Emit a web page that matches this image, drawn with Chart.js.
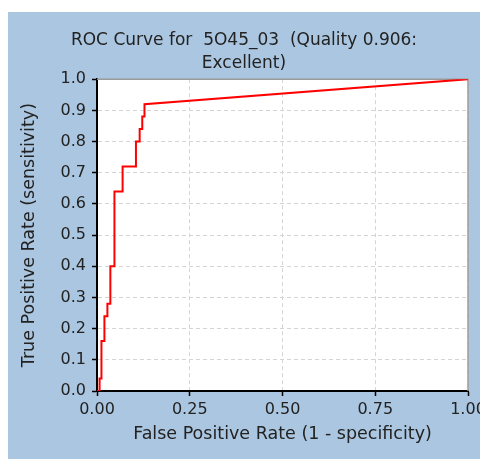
<!DOCTYPE html>
<html>
<head>
<meta charset="utf-8">
<script src="https://cdn.jsdelivr.net/npm/chart.js@4/dist/chart.umd.min.js"></script>
<style>
    body { margin: 0; background: #ffffff; }
    #roc { position: absolute; left: 8px; top: 12px; background: #abc6e0; }
</style>
</head>
<body>
<canvas id="roc" width="472" height="447"></canvas>
<script>
// ROC curve corner points
const fpr = [0, 0.007, 0.007, 0.012, 0.012, 0.020, 0.020, 0.028, 0.028, 0.036, 0.036,
             0.047, 0.047, 0.069, 0.069, 0.105, 0.105, 0.115, 0.115, 0.122, 0.122,
             0.128, 0.128, 1.0];
const tpr = [0, 0, 0.04, 0.04, 0.16, 0.16, 0.24, 0.24, 0.28, 0.28, 0.40,
             0.40, 0.64, 0.64, 0.72, 0.72, 0.80, 0.80, 0.84, 0.84, 0.88,
             0.88, 0.92, 1.0];
const titleLines = ['ROC Curve for  5O45_03  (Quality 0.906:', 'Excellent)'];
const xTitle = 'False Positive Rate (1 - specificity)';
const yTitle = 'True Positive Rate (sensitivity)';

Chart.defaults.font.family = '"DejaVu Sans", sans-serif';
Chart.defaults.font.size = 16;
Chart.defaults.color = '#222';

// white plot area with a grey frame on top and right
const plotFrame = {
    id: 'plotFrame',
    beforeDraw(chart) {
        const a = chart.chartArea, ctx = chart.ctx;
        ctx.save();
        ctx.fillStyle = '#ffffff';
        ctx.fillRect(a.left, a.top, a.right - a.left, a.bottom - a.top);
        ctx.restore();
    },
    beforeDatasetsDraw(chart) {
        const a = chart.chartArea, ctx = chart.ctx;
        ctx.save();
        ctx.strokeStyle = '#9a9a9a';
        ctx.lineWidth = 1.5;
        ctx.beginPath();
        ctx.moveTo(a.left, a.top);
        ctx.lineTo(a.right, a.top);
        ctx.lineTo(a.right, a.bottom);
        ctx.stroke();
        ctx.restore();
    }
};

const gridOpts = { color: '#d4d4d4', tickColor: '#000', tickLength: 5, tickWidth: 1.5, tickBorderDash: [] };

new Chart(document.getElementById('roc').getContext('2d'), {
    type: 'line',
    data: {
        datasets: [{
            data: fpr.map((x, i) => ({ x: x, y: tpr[i] })),
            borderColor: '#ff0000',
            borderWidth: 2,
            pointRadius: 0,
            tension: 0,
            fill: false
        }]
    },
    options: {
        responsive: false,
        animation: false,
        devicePixelRatio: 1,
        layout: { padding: 0 },
        plugins: {
            legend: { display: false },
            tooltip: { enabled: false },
            title: {
                display: true,
                text: titleLines,
                font: { size: 17, weight: 'normal', lineHeight: 1.3 },
                color: '#222',
                padding: { top: 18, bottom: 5 }
            }
        },
        scales: {
            x: {
                type: 'linear',
                min: 0,
                max: 1,
                afterFit: s => { s.height = 68; s.paddingLeft = 0; s.paddingRight = 12; },
                ticks: { stepSize: 0.25, padding: 4, maxRotation: 0, callback: v => v.toFixed(2) },
                grid: gridOpts,
                border: { color: '#000', width: 2, dash: [4, 3] },
                title: { display: true, text: xTitle, font: { size: 17.5 }, padding: { top: 0, bottom: 14 } }
            },
            y: {
                min: 0,
                max: 1,
                afterFit: s => { s.width = 89; s.paddingTop = 0; s.paddingBottom = 0; },
                ticks: { stepSize: 0.1, padding: 6, callback: v => v.toFixed(1) },
                grid: gridOpts,
                border: { color: '#000', width: 2, dash: [4, 3] },
                title: { display: true, text: yTitle, font: { size: 17.5 }, padding: { top: 11, bottom: 0 } }
            }
        }
    },
    plugins: [plotFrame]
});
</script>
</body>
</html>
